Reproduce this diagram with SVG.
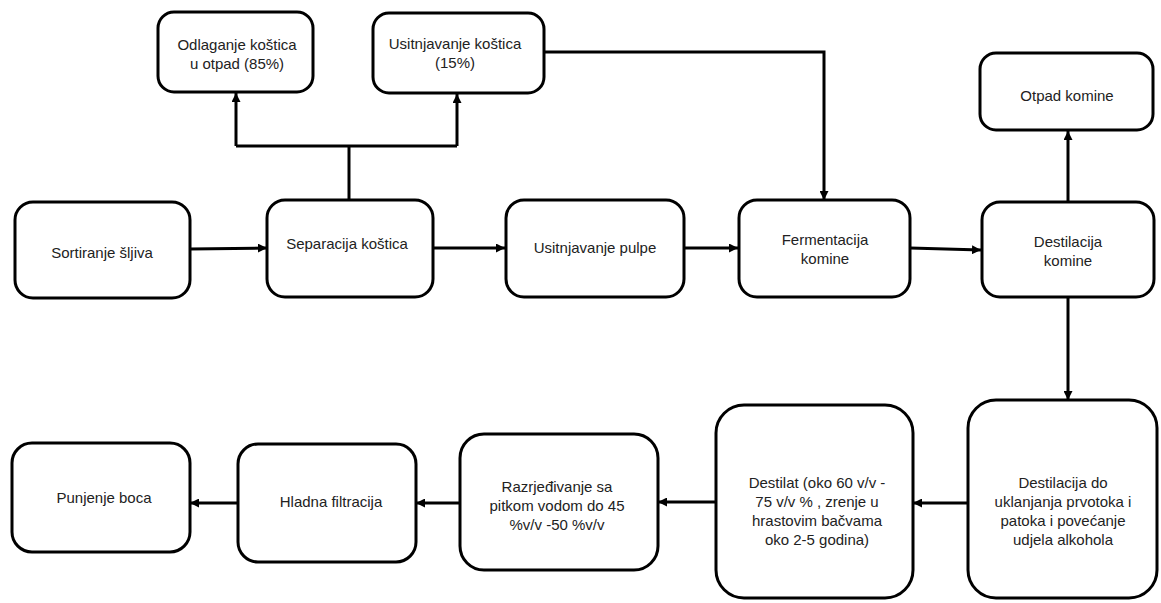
<svg xmlns="http://www.w3.org/2000/svg" width="1161" height="603" viewBox="0 0 1161 603">
<defs>
<style>
.box{fill:#fff;stroke:#000;stroke-width:3}
.lbl{font-family:"Liberation Sans",Arial,sans-serif;font-size:15px;fill:#222;text-anchor:middle}
.edge{fill:none;stroke:#000;stroke-width:3}
</style>
<marker id="ah" viewBox="0 0 10 10" refX="10" refY="5" markerWidth="9" markerHeight="9" markerUnits="userSpaceOnUse" orient="auto">
<path d="M0,0 L10,5 L0,10 z" fill="#000"/>
</marker>
</defs>
<rect width="1161" height="603" fill="#fff"/>
<g id="connectors">
<path class="edge" d="M349,200 V146"/>
<path class="edge" d="M236,146 H457"/>
<path class="edge" d="M236,146 V93" marker-end="url(#ah)"/>
<path class="edge" d="M457,146 V94" marker-end="url(#ah)"/>
<path class="edge" d="M544,52 H824 V200" marker-end="url(#ah)"/>
<path class="edge" d="M190,249 L267,248" marker-end="url(#ah)"/>
<path class="edge" d="M433,248 H505" marker-end="url(#ah)"/>
<path class="edge" d="M684,248 H738" marker-end="url(#ah)"/>
<path class="edge" d="M910,248 L981,250" marker-end="url(#ah)"/>
<path class="edge" d="M1068,202 V131" marker-end="url(#ah)"/>
<path class="edge" d="M1068,297 V400" marker-end="url(#ah)"/>
<path class="edge" d="M968,503 H913" marker-end="url(#ah)"/>
<path class="edge" d="M716,502 H658" marker-end="url(#ah)"/>
<path class="edge" d="M460,503 H416" marker-end="url(#ah)"/>
<path class="edge" d="M238,503 H190" marker-end="url(#ah)"/>
</g>
<g id="n_odlaganje">
<rect class="box" x="158" y="12" width="155" height="80" rx="16"/>
<text class="lbl" x="237" y="50">Odlaganje koštica</text>
<text class="lbl" x="237" y="69">u otpad (85%)</text>
</g>
<g id="n_usitnjavanje_kostica">
<rect class="box" x="373" y="13" width="171" height="80" rx="16"/>
<text class="lbl" x="455" y="49">Usitnjavanje koštica</text>
<text class="lbl" x="455" y="68">(15%)</text>
</g>
<g id="n_otpad_komine">
<rect class="box" x="980" y="53" width="173" height="77" rx="16"/>
<text class="lbl" x="1067" y="101">Otpad komine</text>
</g>
<g id="n_sortiranje">
<rect class="box" x="15" y="202" width="175" height="96" rx="18"/>
<text class="lbl" x="102" y="258">Sortiranje šljiva</text>
</g>
<g id="n_separacija">
<rect class="box" x="267" y="200" width="166" height="97" rx="18"/>
<text class="lbl" x="347" y="249">Separacija koštica</text>
</g>
<g id="n_pulpe">
<rect class="box" x="506" y="200" width="178" height="97" rx="18"/>
<text class="lbl" x="595" y="253">Usitnjavanje pulpe</text>
</g>
<g id="n_fermentacija">
<rect class="box" x="739" y="200" width="171" height="97" rx="18"/>
<text class="lbl" x="825" y="245">Fermentacija</text>
<text class="lbl" x="825" y="264">komine</text>
</g>
<g id="n_destilacija_komine">
<rect class="box" x="982" y="202" width="172" height="95" rx="18"/>
<text class="lbl" x="1068" y="247">Destilacija</text>
<text class="lbl" x="1068" y="266">komine</text>
</g>
<g id="n_destilacija_do">
<rect class="box" x="968" y="400" width="189" height="198" rx="28"/>
<text class="lbl" x="1063" y="488">Destilacija do</text>
<text class="lbl" x="1063" y="507">uklanjanja prvotoka i</text>
<text class="lbl" x="1063" y="526">patoka i povećanje</text>
<text class="lbl" x="1063" y="545">udjela alkohola</text>
</g>
<g id="n_destilat">
<rect class="box" x="716" y="405" width="197" height="193" rx="28"/>
<text class="lbl" x="817" y="488">Destilat (oko 60 v/v -</text>
<text class="lbl" x="817" y="507">75 v/v % , zrenje u</text>
<text class="lbl" x="817" y="526">hrastovim bačvama</text>
<text class="lbl" x="817" y="545">oko 2-5 godina)</text>
</g>
<g id="n_razrjedivanje">
<rect class="box" x="460" y="434" width="198" height="136" rx="24"/>
<text class="lbl" x="557" y="492">Razrjeđivanje sa</text>
<text class="lbl" x="557" y="511">pitkom vodom do 45</text>
<text class="lbl" x="557" y="530">%v/v -50 %v/v</text>
</g>
<g id="n_hladna">
<rect class="box" x="238" y="444" width="178" height="118" rx="20"/>
<text class="lbl" x="331" y="507">Hladna filtracija</text>
</g>
<g id="n_punjenje">
<rect class="box" x="12" y="443" width="178" height="109" rx="20"/>
<text class="lbl" x="104" y="503">Punjenje boca</text>
</g>
</svg>
